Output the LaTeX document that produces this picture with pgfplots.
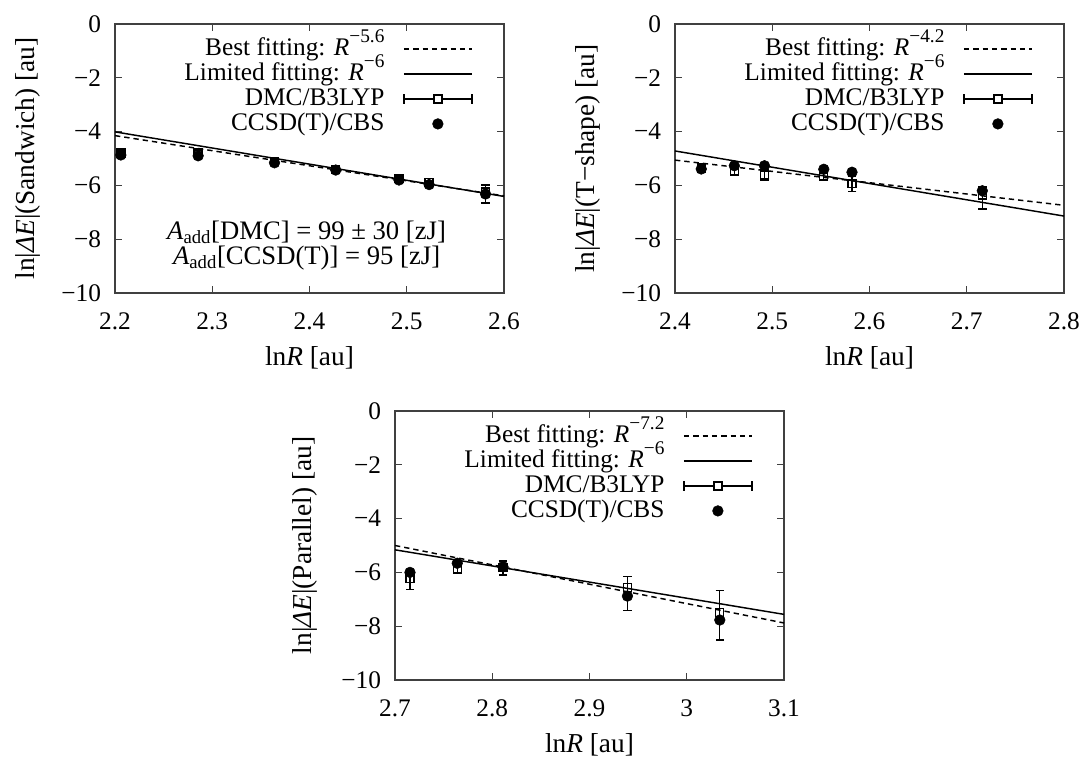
\documentclass[border=0pt]{standalone}
\usepackage{fontspec}
\setmainfont{Liberation Serif}
\usepackage{pgfplots}
\pgfplotsset{compat=1.18}

\newcommand{\fs}{\fontsize{19}{22}\selectfont}
\newcommand{\fl}{\fontsize{20.5}{24}\selectfont}
\newcommand{\supx}[1]{\raisebox{0.5em}{\fontsize{14.5}{14.5}\selectfont #1}}

\pgfplotsset{
  myax/.style={
    scale only axis, width=291.75pt, height=201.75pt, anchor=north west,
    clip=false,
    ymin=-10, ymax=0,
    ytick={-10,-8,-6,-4,-2,0},
    yticklabels={−10,−8,−6,−4,−2,0},
    tick align=inside, major tick length=5pt,
    axis line style={black!75, line width=0.8pt},
    every tick/.style={black!75, line width=0.8pt},
    font=\fs,
    tick label style={font=\fs},
    xticklabel style={yshift=-11pt},
    yticklabel style={xshift=-7pt},
    /pgf/number format/assume math mode=true,
    xlabel={ln\textit{R} [au]},
    label style={font=\fl},
    xlabel style={at={(axis description cs:0.5,-0.242)}, anchor=center},
    ylabel style={at={(axis description cs:-0.224,0.5)}, anchor=center},
    legend plot pos=right,
    legend cell align=right,
    legend style={draw=none, fill=none, at={(axis description cs:0.92,0.953)},
      anchor=north east, inner sep=0pt, column sep=14pt, row sep=0.75pt, font=\fs,
      nodes={inner sep=0pt, text height=14pt, text depth=4pt}},
  },
  bestfit/.style={black, line width=1.1pt, dash pattern=on 4pt off 3pt,
    legend image code/.code={\draw[black, line width=1.1pt, dash pattern=on 4pt off 3pt] (0pt,0pt) -- (51pt,0pt);}},
  limfit/.style={black, line width=1.1pt,
    legend image code/.code={\draw[black, line width=1.1pt] (0pt,0pt) -- (51pt,0pt);}},
  dmc/.style={black, only marks, mark=square, mark size=3pt,
    mark options={line width=1pt},
    error bars/.cd, y dir=both, y explicit,
    error bar style={line width=1pt},
    error mark options={rotate=90, mark size=3.2pt, line width=1pt},
    /pgfplots/legend image code/.code={
      \draw[black, line width=1pt] (0pt,0pt) -- (51pt,0pt);
      \draw[black, line width=1pt] (0pt,-3.5pt) -- (0pt,3.5pt);
      \draw[black, line width=1pt] (51pt,-3.5pt) -- (51pt,3.5pt);
      \draw[black, line width=1pt, fill=white] (22.5pt,-3pt) rectangle (28.5pt,3pt);}},
  ccsd/.style={black, only marks, mark=*, mark size=4pt,
    legend image code/.code={\path[draw=none, fill=none] (0pt,0pt) -- (51pt,0pt); \fill[black] (25.5pt,0pt) circle (4pt);}},
}

\begin{document}
\begin{tikzpicture}
\useasboundingbox (0,0) rectangle (813.75pt,-569.25pt);

% ---------------- Sandwich ----------------
\begin{axis}[myax, at={(86.25pt,-18pt)},
  xmin=2.2, xmax=2.6, xtick={2.2,2.3,2.4,2.5,2.6},
  ylabel={ln|\textit{ΔE}|(Sandwich) [au]}]
\addplot[bestfit] coordinates {(2.2,-4.15) (2.6,-6.39)};
\addlegendentry{Best fitting: \textit{R}\supx{−5.6}}
\addplot[limfit] coordinates {(2.2,-4.01) (2.6,-6.41)};
\addlegendentry{Limited fitting: \textit{R}\supx{−6}}
\addplot[dmc] coordinates {
  (2.206,-4.80) += (0,0.10) -= (0,0.10)
  (2.2855,-4.78) += (0,0.10) -= (0,0.12)
  (2.364,-5.12) += (0,0.12) -= (0,0.12)
  (2.427,-5.40) += (0,0.10) -= (0,0.10)
  (2.492,-5.75) += (0,0.12) -= (0,0.12)
  (2.523,-5.90) += (0,0.15) -= (0,0.15)
  (2.581,-6.25) += (0,0.27) -= (0,0.40)
};
\addlegendentry{DMC/B3LYP}
\addplot[ccsd] coordinates {
  (2.206,-4.87) (2.2855,-4.90) (2.364,-5.16) (2.427,-5.43)
  (2.492,-5.80) (2.523,-5.97) (2.581,-6.32)
};
\addlegendentry{CCSD(T)/CBS}
\node[align=center, inner sep=0pt, font=\fontsize{20}{19}\selectfont] at (axis cs:2.397,-8.23)
  {\textit{A}\textsubscript{add}[DMC] = 99 ± 30 [zJ]\\
   \textit{A}\textsubscript{add}[CCSD(T)] = 95 [zJ]};
\end{axis}

% ---------------- T-shape ----------------
\begin{axis}[myax, at={(506.25pt,-18pt)},
  xmin=2.4, xmax=2.8, xtick={2.4,2.5,2.6,2.7,2.8},
  ylabel={ln|\textit{ΔE}|(T−shape) [au]}]
\addplot[bestfit] coordinates {(2.4,-5.06) (2.8,-6.74)};
\addlegendentry{Best fitting: \textit{R}\supx{−4.2}}
\addplot[limfit] coordinates {(2.4,-4.72) (2.8,-7.14)};
\addlegendentry{Limited fitting: \textit{R}\supx{−6}}
\addplot[dmc] coordinates {
  (2.427,-5.35) += (0,0.10) -= (0,0.10)
  (2.461,-5.49) += (0,0.15) -= (0,0.12)
  (2.492,-5.61) += (0,0.20) -= (0,0.19)
  (2.553,-5.68) += (0,0.12) -= (0,0.12)
  (2.582,-5.92) += (0,0.25) -= (0,0.31)
  (2.716,-6.36) += (0,0.30) -= (0,0.52)
};
\addlegendentry{DMC/B3LYP}
\addplot[ccsd] coordinates {
  (2.427,-5.39) (2.461,-5.27) (2.492,-5.27) (2.553,-5.40)
  (2.582,-5.51) (2.716,-6.20)
};
\addlegendentry{CCSD(T)/CBS}
\end{axis}

% ---------------- Parallel ----------------
\begin{axis}[myax, at={(296.25pt,-308.25pt)},
  xmin=2.7, xmax=3.1, xtick={2.7,2.8,2.9,3,3.1},
  ylabel style={at={(axis description cs:-0.231,0.5)}},
  ylabel={ln|\textit{ΔE}|(Parallel) [au]}]
\addplot[bestfit] coordinates {(2.7,-5.00) (3.1,-7.88)};
\addlegendentry{Best fitting: \textit{R}\supx{−7.2}}
\addplot[limfit] coordinates {(2.7,-5.16) (3.1,-7.56)};
\addlegendentry{Limited fitting: \textit{R}\supx{−6}}
\addplot[dmc] coordinates {
  (2.7154,-6.22) += (0,0.30) -= (0,0.41)
  (2.764,-5.85) += (0,0.15) -= (0,0.19)
  (2.811,-5.82) += (0,0.25) -= (0,0.28)
  (2.939,-6.56) += (0,0.40) -= (0,0.86)
  (3.034,-7.49) += (0,0.81) -= (0,1.02)
};
\addlegendentry{DMC/B3LYP}
\addplot[ccsd] coordinates {
  (2.7154,-6.00) (2.764,-5.66) (2.811,-5.79) (2.939,-6.88) (3.034,-7.77)
};
\addlegendentry{CCSD(T)/CBS}
\end{axis}
\end{tikzpicture}
\end{document}
